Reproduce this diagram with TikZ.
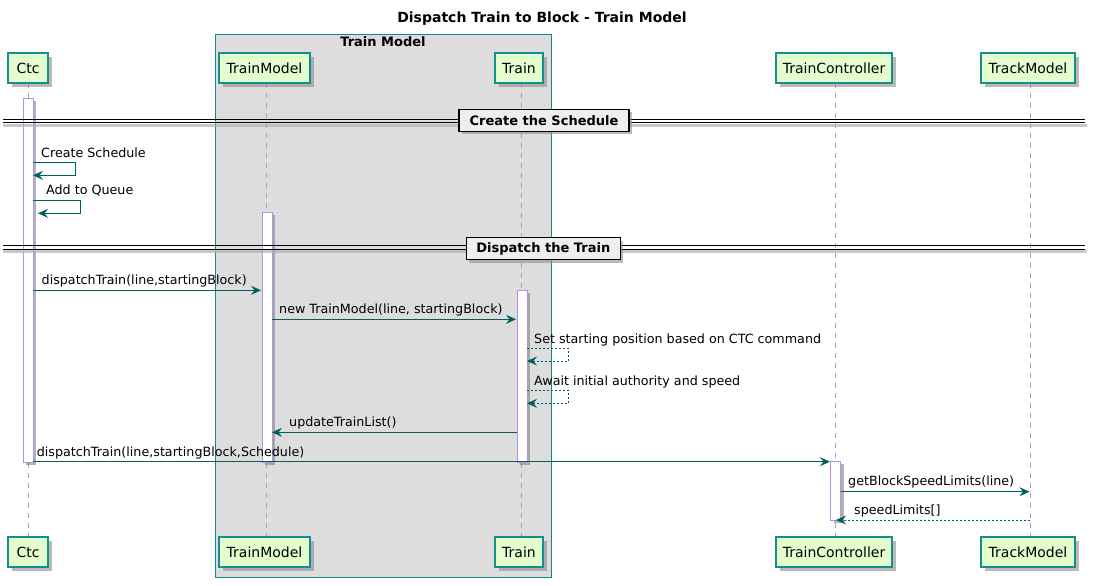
\documentclass[tikz,border=0pt]{standalone}
\usepackage{fontspec}
\setmainfont{DejaVu Sans}
\usetikzlibrary{shadows,arrows.meta}
\definecolor{pfill}{HTML}{E4FDCE}
\definecolor{pborder}{HTML}{13908C}
\definecolor{boxborder}{HTML}{0F8A8A}
\definecolor{boxfill}{HTML}{DDDDDD}
\definecolor{arrowc}{HTML}{00605E}
\definecolor{lifec}{HTML}{B893DB}
\definecolor{divfill}{HTML}{EEEEEE}
\tikzset{
  part/.style={draw=pborder, fill=pfill, line width=1.1pt, minimum height=30pt, inner sep=0pt,
     font=\fontsize{14}{16}\selectfont, drop shadow={shadow xshift=4pt, shadow yshift=-4pt, fill=black!45, opacity=0.6}},
  life/.style={draw=lifec, line width=0.8pt, dash pattern=on 5pt off 5pt},
  actbar/.style={draw=lifec, fill=white, line width=0.8pt, minimum width=10pt, inner sep=0pt,
     drop shadow={shadow xshift=3pt, shadow yshift=-3pt, fill=black!50, opacity=0.6}},
  msg/.style={draw=arrowc, line width=1pt, -{Stealth[length=10pt, width=9pt, inset=3.5pt]}},
  rmsg/.style={msg, dash pattern=on 2pt off 2pt},
  mlabel/.style={font=\fontsize{12.7}{14}\selectfont, inner sep=0pt, anchor=west},
  divbox/.style={draw=black, fill=divfill, line width=1.5pt, inner sep=0pt, minimum height=22pt,
     font=\bfseries\fontsize{13}{15}\selectfont, drop shadow={shadow xshift=3pt, shadow yshift=-3pt, fill=black!45, opacity=0.6}},
  divline/.style={draw=black, line width=1pt},
}
\begin{document}
\begin{tikzpicture}[x=1pt, y=-1pt]
\useasboundingbox (0,0) rectangle (1095,586);
% title
\node[font=\bfseries\fontsize{14}{16}\selectfont] (title) at (542,19) {Dispatch Train to Block - Train Model};
% group box
\node[draw=boxborder, fill=boxfill, line width=0.9pt, minimum width=336pt, minimum height=543pt, inner sep=0pt, anchor=north west] (grp) at (215,34) {};
\node[font=\bfseries\fontsize{13}{15}\selectfont, inner sep=0pt] (grplabel) at (383,42) {Train Model};
% participant coordinates
\coordinate (ctcTop) at (28,83);   \coordinate (ctcBot) at (28,537);
\coordinate (tmTop) at (266.5,83); \coordinate (tmBot) at (266.5,537);
\coordinate (trTop) at (521,83);   \coordinate (trBot) at (521,537);
\coordinate (tcTop) at (835,83);   \coordinate (tcBot) at (835,537);
\coordinate (tkTop) at (1030,83);  \coordinate (tkBot) at (1030,537);
% lifelines
\draw[life] (ctcTop) -- (ctcBot);
\draw[life] (tmTop) -- (tmBot);
\draw[life] (trTop) -- (trBot);
\draw[life] (tcTop) -- (tcBot);
\draw[life] (tkTop) -- (tkBot);
% activation bars
\node[actbar, minimum height=364pt, anchor=north] (actCtc) at (28,98) {};
\node[actbar, minimum height=250pt, anchor=north] (actTM) at (267,212) {};
\node[actbar, minimum height=172pt, anchor=north] (actTr) at (522,290) {};
\node[actbar, minimum height=59pt, anchor=north] (actTC) at (835.5,461) {};
% dividers
\fill[black!30, opacity=0.7] (3,123.5) rectangle (1087,126.5);
\draw[divline] (3,119) -- (1085,119);
\draw[divline] (3,122.7) -- (1085,122.7);
\node[divbox, minimum width=170pt] (div1) at (544,120.3) {Create the Schedule};
\fill[black!30, opacity=0.7] (3,250.1) rectangle (1087,253.1);
\draw[divline] (3,245.7) -- (1085,245.7);
\draw[divline] (3,249.3) -- (1085,249.3);
\node[divbox, minimum width=154pt] (div2) at (543.3,248.5) {Dispatch the Train};
% self messages Ctc
\coordinate (cs1) at (33,162.3); \coordinate (cs2) at (75.7,162.3); \coordinate (cs3) at (75.7,175.3); \coordinate (cs4) at (33,175.3);
\draw[msg] (cs1) -- (cs2) -- (cs3) -- (cs4);
\node[mlabel] (lcs) at (41,153) {Create Schedule};
\coordinate (aq1) at (33,200); \coordinate (aq2) at (80.7,200); \coordinate (aq3) at (80.7,213.3); \coordinate (aq4) at (38,213.3);
\draw[msg] (aq1) -- (aq2) -- (aq3) -- (aq4);
\node[mlabel] (laq) at (46,190) {Add to Queue};
% dispatchTrain
\coordinate (d1s) at (33,290.3); \coordinate (d1e) at (261,290.3);
\draw[msg] (d1s) -- (d1e);
\node[mlabel] (ld1) at (41.5,280.5) {dispatchTrain(line,startingBlock)};
% new TrainModel
\coordinate (n1s) at (272,319.3); \coordinate (n1e) at (516,319.3);
\draw[msg] (n1s) -- (n1e);
\node[mlabel] (ln1) at (279,310) {new TrainModel(line, startingBlock)};
% Set starting position
\coordinate (s1) at (527,348.3); \coordinate (s2) at (568.7,348.3); \coordinate (s3) at (568.7,361); \coordinate (s4) at (527,361);
\draw[rmsg] (s1) -- (s2) -- (s3) -- (s4);
\node[mlabel] (ls) at (534,340) {Set starting position based on CTC command};
% Await
\coordinate (w1) at (527,390.3); \coordinate (w2) at (568.7,390.3); \coordinate (w3) at (568.7,403.3); \coordinate (w4) at (527,403.3);
\draw[rmsg] (w1) -- (w2) -- (w3) -- (w4);
\node[mlabel] (lw) at (534,381.5) {Await initial authority and speed};
% updateTrainList
\coordinate (u1) at (517,432.3); \coordinate (u2) at (272,432.3);
\draw[msg] (u1) -- (u2);
\node[mlabel] (lu) at (289,423) {updateTrainList()};
% dispatchTrain with Schedule
\coordinate (d2s) at (33,461.7); \coordinate (d2e) at (830,461.7);
\draw[msg] (d2s) -- (d2e);
\node[mlabel] (ld2) at (36.7,452.5) {dispatchTrain(line,startingBlock,Schedule)};
% getBlockSpeedLimits
\coordinate (g1) at (841,491.7); \coordinate (g2) at (1029.5,491.7);
\draw[msg] (g1) -- (g2);
\node[mlabel] (lg) at (848,481.5) {getBlockSpeedLimits(line)};
% speedLimits return
\coordinate (r1) at (1030,520); \coordinate (r2) at (836,520);
\draw[rmsg] (r1) -- (r2);
\node[mlabel] (lr) at (854,510.5) {speedLimits[]};
% participants top
\node[part, minimum width=40pt] (ctcT) at (28,68) {Ctc};
\node[part, minimum width=91pt] (tmT) at (264.5,68) {TrainModel};
\node[part, minimum width=48pt] (trT) at (519,68) {Train};
\node[part, minimum width=116pt] (tcT) at (834,68) {TrainController};
\node[part, minimum width=94pt] (tkT) at (1028,68) {TrackModel};
% participants bottom
\node[part, minimum width=40pt] (ctcB) at (28,552) {Ctc};
\node[part, minimum width=91pt] (tmB) at (264.5,552) {TrainModel};
\node[part, minimum width=48pt] (trB) at (519,552) {Train};
\node[part, minimum width=116pt] (tcB) at (834,552) {TrainController};
\node[part, minimum width=94pt] (tkB) at (1028,552) {TrackModel};
\end{tikzpicture}
\end{document}
